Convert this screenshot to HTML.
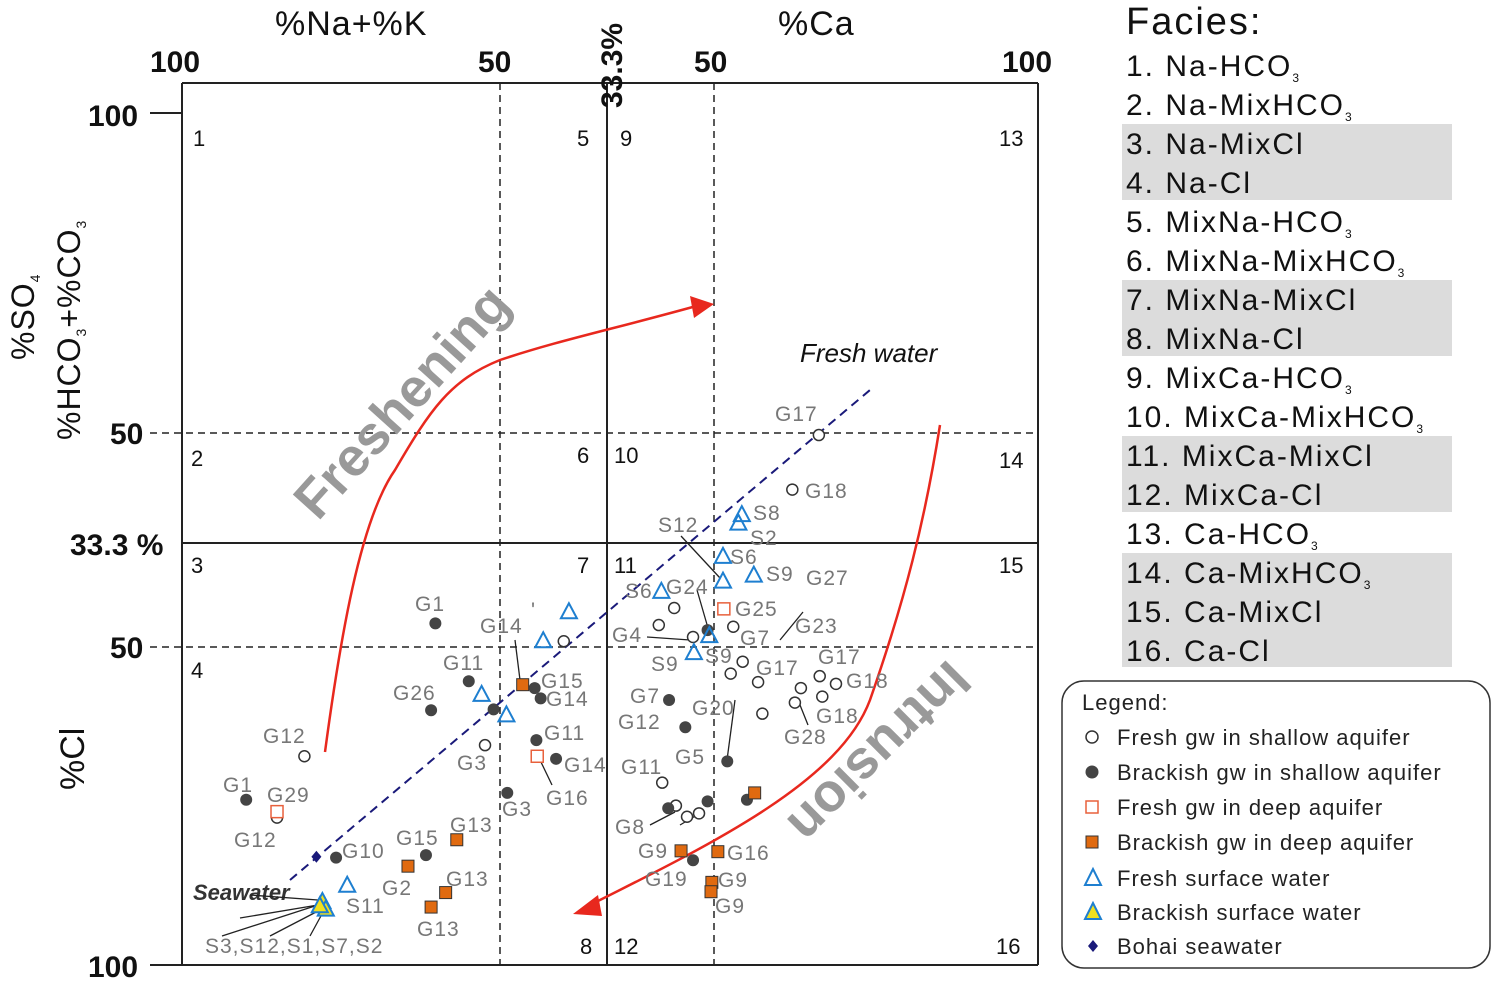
<!DOCTYPE html>
<html><head><meta charset="utf-8">
<style>
html,body{margin:0;padding:0;background:#fff;}
svg{display:block;font-family:"Liberation Sans",Arial,sans-serif;}
.tk{font-size:30px;font-weight:bold;fill:#111;}
.cn{font-size:22px;fill:#111;}
.lb{font-size:21px;fill:#777;letter-spacing:1px;}
.fa{font-size:30px;fill:#111;letter-spacing:2px;}
.lg{font-size:22px;fill:#222;letter-spacing:1px;}
</style></head>
<body>
<svg id="chart" width="1498" height="984" viewBox="0 0 1498 984">
<g>
<rect x="1122" y="124" width="330" height="76" fill="#dcdcdc"/>
<rect x="1122" y="280" width="330" height="76" fill="#dcdcdc"/>
<rect x="1122" y="436" width="330" height="76" fill="#dcdcdc"/>
<rect x="1122" y="553" width="330" height="114" fill="#dcdcdc"/>
<text x="1126" y="34" style="font-size:38px;letter-spacing:2px" fill="#111">Facies:</text>
<text class="fa" x="1126" y="76">1. Na-HCO<tspan font-size="12" dy="6">3</tspan></text>
<text class="fa" x="1126" y="115">2. Na-MixHCO<tspan font-size="12" dy="6">3</tspan></text>
<text class="fa" x="1126" y="154">3. Na-MixCl</text>
<text class="fa" x="1126" y="193">4. Na-Cl</text>
<text class="fa" x="1126" y="232">5. MixNa-HCO<tspan font-size="12" dy="6">3</tspan></text>
<text class="fa" x="1126" y="271">6. MixNa-MixHCO<tspan font-size="12" dy="6">3</tspan></text>
<text class="fa" x="1126" y="310">7. MixNa-MixCl</text>
<text class="fa" x="1126" y="349">8. MixNa-Cl</text>
<text class="fa" x="1126" y="388">9. MixCa-HCO<tspan font-size="12" dy="6">3</tspan></text>
<text class="fa" x="1126" y="427">10. MixCa-MixHCO<tspan font-size="12" dy="6">3</tspan></text>
<text class="fa" x="1126" y="466">11. MixCa-MixCl</text>
<text class="fa" x="1126" y="505">12. MixCa-Cl</text>
<text class="fa" x="1126" y="544">13. Ca-HCO<tspan font-size="12" dy="6">3</tspan></text>
<text class="fa" x="1126" y="583">14. Ca-MixHCO<tspan font-size="12" dy="6">3</tspan></text>
<text class="fa" x="1126" y="622">15. Ca-MixCl</text>
<text class="fa" x="1126" y="661">16. Ca-Cl</text>
</g>
<g stroke="#222" fill="none">
<line x1="182" y1="83" x2="1038" y2="83" stroke-width="2"/>
<line x1="182" y1="83" x2="182" y2="965" stroke-width="2"/>
<line x1="1038" y1="83" x2="1038" y2="965" stroke-width="2"/>
<line x1="150" y1="113" x2="182" y2="113" stroke-width="2"/>
<line x1="150" y1="965" x2="1038" y2="965" stroke-width="2"/>
<line x1="607" y1="83" x2="607" y2="965" stroke-width="2"/>
<line x1="182" y1="543" x2="1038" y2="543" stroke-width="2"/>
<g stroke-dasharray="7,5" stroke-width="1.5">
<line x1="500" y1="83" x2="500" y2="965"/>
<line x1="714" y1="83" x2="714" y2="965"/>
<line x1="150" y1="433" x2="1038" y2="433"/>
<line x1="150" y1="647" x2="1038" y2="647"/>
</g>
</g>
<g>
<text class="tk" x="150" y="72">100</text><text class="tk" x="478" y="72">50</text>
<text class="tk" x="694" y="72">50</text><text class="tk" x="1002" y="72">100</text>
<text class="tk" x="88" y="126">100</text><text class="tk" x="110" y="444">50</text>
<text class="tk" x="70" y="555">33.3 %</text><text class="tk" x="110" y="658">50</text>
<text class="tk" x="88" y="977">100</text>
<text class="tk" transform="translate(622,108) rotate(-90)">33.3%</text>
<text x="275" y="35" style="font-size:34px;letter-spacing:1px" fill="#111">%Na+%K</text>
<text x="778" y="35" style="font-size:34px;letter-spacing:1px" fill="#111">%Ca</text>
<text transform="translate(34,360) rotate(-90)" style="font-size:32px;letter-spacing:1px" fill="#111">%SO<tspan font-size="14" dy="6">4</tspan></text>
<text transform="translate(80,440) rotate(-90)" style="font-size:32px;letter-spacing:1px" fill="#111">%HCO<tspan font-size="14" dy="6">3</tspan><tspan dy="-6">+%CO</tspan><tspan font-size="14" dy="6">3</tspan></text>
<text transform="translate(84,790) rotate(-90)" style="font-size:34px" fill="#111">%Cl</text>
</g>
<g>
<text class="cn" x="193" y="146">1</text><text class="cn" x="577" y="146">5</text><text class="cn" x="620" y="146">9</text><text class="cn" x="999" y="146">13</text>
<text class="cn" x="191" y="466">2</text><text class="cn" x="577" y="463">6</text><text class="cn" x="614" y="463">10</text><text class="cn" x="999" y="468">14</text>
<text class="cn" x="191" y="573">3</text><text class="cn" x="577" y="573">7</text><text class="cn" x="614" y="573">11</text><text class="cn" x="999" y="573">15</text>
<text class="cn" x="191" y="678">4</text><text class="cn" x="580" y="954">8</text><text class="cn" x="614" y="954">12</text><text class="cn" x="996" y="954">16</text>
</g>
<g>
<line x1="290" y1="880" x2="870" y2="390" stroke="#1a1a7a" stroke-width="2" stroke-dasharray="9,6"/>
<path d="M325,752 C340,640 360,520 395,470 C430,410 450,380 500,360 C560,340 610,330 700,305" stroke="#e8281e" stroke-width="2.5" fill="none"/>
<polygon points="714,304 690,296 694,318" fill="#e8281e"/>
<path d="M940,425 C925,520 905,600 870,700 C840,780 720,840 590,905" stroke="#e8281e" stroke-width="2.5" fill="none"/>
<polygon points="573,914 598,895 602,916" fill="#e8281e"/>
<text transform="translate(318,522) rotate(-48)" style="font-size:54px;font-weight:bold;fill:#999">Freshening</text>
<text transform="translate(948,658) rotate(135)" style="font-size:54px;font-weight:bold;fill:#999">Intrusion</text>
<text x="800" y="362" style="font-size:26px;font-style:italic;fill:#111">Fresh water</text>
<text x="193" y="900" style="font-size:22px;font-weight:bold;font-style:italic;fill:#333">Seawater</text>
</g>
<g stroke="#222" stroke-width="1.3" fill="none">
<line x1="222" y1="936" x2="318" y2="905"/><line x1="270" y1="936" x2="320" y2="910"/><line x1="310" y1="936" x2="322" y2="914"/>
<line x1="250" y1="895" x2="318" y2="900"/><line x1="240" y1="918" x2="318" y2="905"/>
<line x1="681" y1="536" x2="720" y2="578"/><line x1="697" y1="590" x2="708" y2="628"/>
<line x1="647" y1="637" x2="690" y2="640"/><line x1="515" y1="640" x2="520" y2="680"/>
<line x1="540" y1="760" x2="552" y2="785"/><line x1="650" y1="825" x2="675" y2="812"/><line x1="680" y1="825" x2="697" y2="815"/>
<line x1="735" y1="700" x2="727" y2="760"/><line x1="780" y1="640" x2="803" y2="612"/><line x1="808" y1="725" x2="800" y2="705"/>
</g>
<g>
<text class="lb" x="775" y="421">G17</text><text class="lb" x="805" y="498">G18</text>
<text class="lb" x="658" y="532">S12</text><text class="lb" x="753" y="520">S8</text><text class="lb" x="750" y="545">S2</text>
<text class="lb" x="730" y="564">S6</text><text class="lb" x="766" y="581">S9</text><text class="lb" x="806" y="585">G27</text>
<text class="lb" x="625" y="598">S6</text><text class="lb" x="666" y="594">G24</text><text class="lb" x="735" y="616">G25</text>
<text class="lb" x="612" y="642">G4</text><text class="lb" x="740" y="645">G7</text><text class="lb" x="795" y="633">G23</text>
<text class="lb" x="651" y="671">S9</text><text class="lb" x="705" y="663">S9</text><text class="lb" x="756" y="675">G17</text>
<text class="lb" x="818" y="664">G17</text><text class="lb" x="846" y="688">G18</text><text class="lb" x="816" y="723">G18</text>
<text class="lb" x="784" y="744">G28</text><text class="lb" x="692" y="715">G20</text><text class="lb" x="630" y="703">G7</text>
<text class="lb" x="618" y="729">G12</text><text class="lb" x="675" y="764">G5</text><text class="lb" x="621" y="774">G11</text>
<text class="lb" x="615" y="834">G8</text><text class="lb" x="638" y="858">G9</text><text class="lb" x="727" y="860">G16</text>
<text class="lb" x="645" y="886">G19</text><text class="lb" x="718" y="887">G9</text><text class="lb" x="715" y="913">G9</text>
<text class="lb" x="415" y="611">G1</text><text class="lb" x="480" y="633">G14</text><text class="lb" x="531" y="617">'</text>
<text class="lb" x="443" y="670">G11</text><text class="lb" x="541" y="688">G15</text><text class="lb" x="546" y="706">G14</text>
<text class="lb" x="393" y="700">G26</text><text class="lb" x="544" y="740">G11</text><text class="lb" x="457" y="770">G3</text>
<text class="lb" x="564" y="772">G14</text><text class="lb" x="546" y="805">G16</text><text class="lb" x="502" y="816">G3</text>
<text class="lb" x="263" y="743">G12</text><text class="lb" x="223" y="792">G1</text><text class="lb" x="267" y="802">G29</text>
<text class="lb" x="234" y="847">G12</text><text class="lb" x="342" y="858">G10</text><text class="lb" x="396" y="845">G15</text>
<text class="lb" x="450" y="832">G13</text><text class="lb" x="382" y="895">G2</text><text class="lb" x="446" y="886">G13</text>
<text class="lb" x="346" y="913">S11</text><text class="lb" x="417" y="936">G13</text>
<text class="lb" x="205" y="953">S3,S12,S1,S7,S2</text>
</g>
<g id="marks"></g>
<g>
<rect x="1062" y="681" width="428" height="287" rx="22" fill="none" stroke="#333" stroke-width="1.5"/>
<text class="lg" x="1082" y="710">Legend:</text>
<circle cx="1092" cy="737" r="6" fill="#fff" stroke="#333" stroke-width="1.5"/>
<text class="lg" x="1117" y="745">Fresh gw in shallow aquifer</text>
<circle cx="1092" cy="772" r="6.5" fill="#444"/>
<text class="lg" x="1117" y="780">Brackish gw in shallow aquifer</text>
<rect x="1086" y="801" width="12" height="12" fill="#fff" stroke="#e8603c" stroke-width="1.5"/>
<text class="lg" x="1117" y="815">Fresh gw in deep aquifer</text>
<rect x="1086" y="836" width="12" height="12" fill="#e06a10" stroke="#333"/>
<text class="lg" x="1117" y="850">Brackish gw in deep aquifer</text>
<polygon points="1093,869 1085,885 1101,885" fill="none" stroke="#1e7fd0" stroke-width="2"/>
<text class="lg" x="1117" y="886">Fresh surface water</text>
<polygon points="1093,903 1085,919 1101,919" fill="#f0e020" stroke="#1e7fd0" stroke-width="2"/>
<text class="lg" x="1117" y="920">Brackish surface water</text>
<polygon points="1093,940 1098,946 1093,952 1088,946" fill="#1a1a7a"/>
<text class="lg" x="1117" y="954">Bohai seawater</text>
</g>
</svg>
<script>
// domain: x = % across plot (0 = 100% Na+K, 100 = 100% Ca); y = % down plot (0 top, 100 bottom)
const freshShallowX=[74.4,71.3,14.3,11.1,35.4,44.6,55.7,57.5,59.7,64.4,65.5,64.1,67.3,72.3,74.5,76.4,74.8,71.6,67.8,56.1,57.7,59.0,60.4];
const freshShallowY=[37.8,44.2,75.5,82.7,74.2,62.0,60.1,58.1,61.5,60.3,64.4,65.8,66.8,67.5,66.1,67.0,68.5,69.2,70.5,78.6,81.3,82.6,82.2];
const brackShallowX=[29.6,33.5,29.1,36.4,41.2,41.9,41.4,43.7,38.0,7.5,18.0,28.5,56.9,58.8,63.7,61.4,56.8,59.7,66.0,61.4];
const brackShallowY=[59.9,66.7,70.1,70.0,67.5,68.7,73.6,75.8,79.8,80.6,87.4,87.1,68.9,72.1,76.1,80.8,81.6,87.7,80.6,60.7];
const freshDeepX=[63.3,41.5,11.1];
const freshDeepY=[58.2,75.5,82.0];
const brackDeepX=[39.8,32.1,26.4,30.8,29.1,66.9,62.6,58.3,61.9,61.8];
const brackDeepY=[67.1,85.3,88.4,91.5,93.2,79.8,86.7,86.6,90.3,91.4];
const freshSurfX=[65.4,65.0,63.2,63.2,66.8,56.0,45.2,42.2,61.6,59.8,35.0,37.9,19.3];
const freshSurfY=[47.2,48.2,52.1,55.0,54.3,56.2,58.6,62.0,61.4,63.4,68.3,70.7,90.7];
const brackSurfX=[16.4,16.8,16.1];
const brackSurfY=[92.6,93.5,93.1];
const seaX=[15.7];
const seaY=[87.3];
const NS='http://www.w3.org/2000/svg';
const g=document.getElementById('marks');
function sx(v){return 182+v*8.56;}
function sy(v){return 113+v*8.52;}
function mk(tag,attrs,name){const e=document.createElementNS(NS,tag);for(const k in attrs)e.setAttribute(k,attrs[k]);


g.appendChild(e);return e;}
freshShallowX.forEach((v,i)=>mk('circle',{cx:sx(v),cy:sy(freshShallowY[i]),r:5.5,fill:'#fff',stroke:'#333','stroke-width':1.5},'fresh-shallow-point'));
brackShallowX.forEach((v,i)=>mk('circle',{cx:sx(v),cy:sy(brackShallowY[i]),r:6,fill:'#444'},'brackish-shallow-point'));
freshDeepX.forEach((v,i)=>mk('rect',{x:sx(v)-6,y:sy(freshDeepY[i])-6,width:12,height:12,fill:'#fff',stroke:'#e8603c','stroke-width':1.5},'fresh-deep-point'));
brackDeepX.forEach((v,i)=>mk('rect',{x:sx(v)-6,y:sy(brackDeepY[i])-6,width:12,height:12,fill:'#e06a10',stroke:'#333','stroke-width':1},'brackish-deep-point'));
function tri(x,y){return (x)+','+(y-9)+' '+(x-8)+','+(y+6)+' '+(x+8)+','+(y+6);}
freshSurfX.forEach((v,i)=>mk('polygon',{points:tri(sx(v),sy(freshSurfY[i])),fill:'none',stroke:'#1e7fd0','stroke-width':2},'fresh-surface-point'));
brackSurfX.forEach((v,i)=>mk('polygon',{points:tri(sx(v),sy(brackSurfY[i])),fill:'#f0e020',stroke:'#1e7fd0','stroke-width':2},'brackish-surface-point'));
seaX.forEach((v,i)=>{const x=sx(v),y=sy(seaY[i]);mk('polygon',{points:x+','+(y-6)+' '+(x+5)+','+y+' '+x+','+(y+6)+' '+(x-5)+','+y,fill:'#1a1a7a'},'seawater-point');});
</script>
</body></html>
